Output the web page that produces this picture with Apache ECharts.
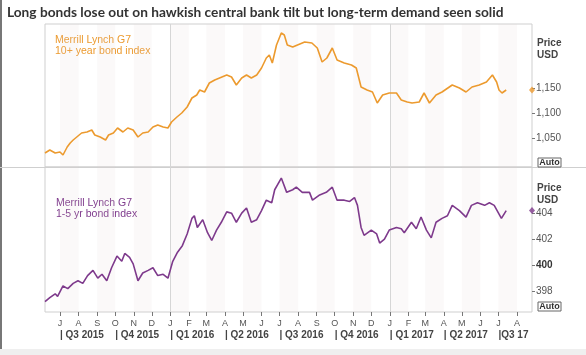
<!DOCTYPE html>
<html><head><meta charset="utf-8">
<script src="https://cdn.jsdelivr.net/npm/echarts@6/dist/echarts.min.js"></script>
<style>html,body{margin:0;padding:0;background:#fff}#c{width:586px;height:355px}</style>
</head><body><div id="c"></div>
<script>
const titleText = 'Long bonds lose out on hawkish central bank tilt but long-term demand seen solid';
const longLabel = ['Merrill Lynch G7', '10+ year bond index'];
const shortLabel = ['Merrill Lynch G7', '1-5 yr bond index'];

const longDates = ['2015-06-06','2015-06-14','2015-06-23','2015-07-01','2015-07-06','2015-07-13','2015-07-18','2015-07-23','2015-07-29','2015-08-06','2015-08-15','2015-08-23','2015-08-28','2015-09-06','2015-09-15','2015-09-20','2015-09-28','2015-10-05','2015-10-14','2015-10-22','2015-10-31','2015-11-08','2015-11-16','2015-11-25','2015-12-03','2015-12-11','2015-12-20','2015-12-28','2016-01-03','2016-01-12','2016-01-20','2016-01-29','2016-02-06','2016-02-14','2016-02-19','2016-02-27','2016-03-06','2016-03-15','2016-03-23','2016-04-04','2016-04-12','2016-04-20','2016-04-29','2016-05-07','2016-05-15','2016-05-24','2016-06-01','2016-06-09','2016-06-14','2016-06-19','2016-06-26','2016-07-04','2016-07-09','2016-07-14','2016-07-23','2016-07-31','2016-08-12','2016-08-24','2016-09-02','2016-09-10','2016-09-18','2016-09-27','2016-10-05','2016-10-17','2016-10-29','2016-11-06','2016-11-14','2016-11-24','2016-12-03','2016-12-11','2016-12-20','2016-12-31','2017-01-12','2017-01-20','2017-01-30','2017-02-07','2017-02-19','2017-02-27','2017-03-08','2017-03-19','2017-03-29','2017-04-15','2017-04-27','2017-05-08','2017-05-18','2017-05-30','2017-06-11','2017-06-21','2017-06-28','2017-07-02','2017-07-07','2017-07-14'];
const longValues = [1020,1026,1020,1022,1016,1032,1040,1046,1052,1060,1062,1066,1056,1052,1046,1056,1060,1070,1062,1070,1066,1052,1060,1062,1072,1076,1072,1070,1082,1092,1100,1112,1130,1136,1146,1142,1160,1166,1170,1176,1172,1156,1170,1176,1170,1176,1190,1210,1216,1200,1236,1260,1256,1236,1232,1236,1242,1240,1230,1202,1210,1230,1206,1200,1196,1190,1152,1146,1142,1120,1136,1140,1140,1126,1122,1120,1122,1140,1120,1136,1142,1156,1150,1142,1152,1156,1162,1176,1162,1146,1140,1146];

const shortDates = ['2015-06-06','2015-06-14','2015-06-23','2015-06-27','2015-07-06','2015-07-14','2015-07-23','2015-07-31','2015-08-08','2015-08-16','2015-08-25','2015-09-02','2015-09-09','2015-09-17','2015-09-25','2015-10-04','2015-10-12','2015-10-17','2015-10-25','2015-10-31','2015-11-08','2015-11-16','2015-11-25','2015-12-03','2015-12-11','2015-12-20','2015-12-28','2016-01-05','2016-01-13','2016-01-21','2016-01-29','2016-02-06','2016-02-10','2016-02-15','2016-02-24','2016-03-03','2016-03-10','2016-03-18','2016-03-26','2016-04-04','2016-04-12','2016-04-20','2016-04-29','2016-05-07','2016-05-15','2016-05-24','2016-06-01','2016-06-09','2016-06-18','2016-06-23','2016-07-04','2016-07-13','2016-07-23','2016-07-29','2016-08-08','2016-08-20','2016-08-25','2016-09-06','2016-09-17','2016-09-27','2016-10-05','2016-10-17','2016-10-26','2016-11-03','2016-11-08','2016-11-14','2016-11-19','2016-12-01','2016-12-10','2016-12-15','2016-12-23','2016-12-31','2017-01-12','2017-01-20','2017-01-25','2017-02-06','2017-02-14','2017-02-22','2017-03-03','2017-03-11','2017-03-19','2017-03-29','2017-04-07','2017-04-15','2017-04-27','2017-05-08','2017-05-17','2017-05-27','2017-06-08','2017-06-16','2017-06-24','2017-07-06','2017-07-14'];
const shortValues = [397.2,397.5,397.8,397.6,398.4,398.2,398.6,398.8,398.6,399.2,399.6,399.0,399.3,398.8,399.8,400.7,400.3,400.9,400.6,400.1,398.8,399.4,399.6,399.8,399.2,399.3,399.0,400.3,401.0,401.5,402.4,403.6,403.8,402.9,403.5,402.5,401.9,402.7,403.3,404.1,404.0,403.3,404.0,404.4,403.3,403.5,404.2,405.0,404.8,405.8,406.7,405.6,405.8,406.0,405.6,405.6,405.0,405.4,405.6,406.0,405.0,405.0,404.9,405.2,404.6,402.9,402.3,402.7,402.4,401.7,402.0,402.7,402.9,402.8,402.5,403.3,402.8,403.7,402.7,402.1,403.3,403.6,403.8,404.6,404.2,403.7,404.6,404.8,404.6,404.8,404.6,403.6,404.2];

const longTicks = [1050, 1100, 1150];
const shortTicks = [398, 400, 402, 404];
const monthLetters = ['J','F','M','A','M','J','J','A','S','O','N','D'];
const quarterStarts = ['2015-07-01','2015-10-01','2016-01-01','2016-04-01','2016-07-01','2016-10-01','2017-01-01','2017-04-01','2017-07-01'];
const quarterLabels = ['| Q3 2015','| Q4 2015','| Q1 2016','| Q2 2016','| Q3 2016','| Q4 2016','| Q1 2017','| Q2 2017','|Q3 17'];
const yearStarts = ['2016-01-01','2017-01-01'];
const xStart = '2015-06-06', xEnd = '2017-08-26';
const longRange = [992, 1278];
const shortRange = [396.4, 407.55];

const ts = s => Date.parse(s + 'T00:00:00Z');
const monthStarts = [];
for (let y = 2015, m = 6; y < 2017 || m <= 7; ) {
  monthStarts.push(Date.UTC(y, m, 1));
  m++; if (m > 11) { m = 0; y++; }
}
const bands = [];
for (let i = 0; i + 1 < monthStarts.length; i += 2) bands.push([{xAxis: monthStarts[i]}, {xAxis: monthStarts[i + 1]}]);
const qTs = quarterStarts.map(ts);

const ORANGE = '#ec9a2e', PURPLE = '#7e3a8c';
const FONT = 'Liberation Sans';
const TFONT = 'Lato';

const chart = echarts.init(document.getElementById('c'), null, {renderer: 'canvas'});
const fmtNum = v => v.toLocaleString('en-US');

function mkSeries(dates, vals, color, idx) {
  return {
    type: 'line', xAxisIndex: idx === 0 ? 0 : 1, yAxisIndex: idx,
    data: dates.map((d, i) => [ts(d), vals[i]]),
    showSymbol: false, symbol: 'none', silent: true,
    lineStyle: {color, width: 1.6}, itemStyle: {color}, z: 5,
    markArea: {silent: true, itemStyle: {color: 'rgba(225,205,205,0.13)'}, data: bands},
    markLine: {silent: true, symbol: 'none', label: {show: false},
      lineStyle: {color: '#d6d6d6', type: 'solid', width: 1},
      data: yearStarts.map(d => ({xAxis: ts(d)}))}
  };
}
function endMarker(dates, vals, color, idx) {
  return {type: 'scatter', xAxisIndex: idx === 0 ? 0 : 1, yAxisIndex: idx, silent: true,
    clip: false, symbol: 'diamond', symbolSize: [6, 7], itemStyle: {color}, z: 6,
    data: [[ts(xEnd), vals[vals.length - 1]]]};
}

const textEl = (x, y, text, opts) => ({type: 'text', x, y, silent: true,
  style: Object.assign({text, fill: '#444', font: '10px ' + FONT, verticalAlign: 'middle'}, opts || {})});
const autoBox = (x, y) => ({type: 'group', x, y, silent: true, children: [
  {type: 'rect', shape: {x: 0, y: 0, width: 23, height: 9}, style: {fill: '#fff', stroke: '#666', lineWidth: 1}},
  {type: 'text', x: 11.5, y: 5, style: {text: 'Auto', fill: '#333', font: 'bold 9px ' + FONT, align: 'center', verticalAlign: 'middle'}}
]});

const option = {
  animation: false, backgroundColor: '#fff',
  grid: [
    {left: 45, right: 54, top: 24, height: 143, show: true, borderColor: '#cfcfcf', borderWidth: 1, backgroundColor: 'transparent'},
    {left: 45, right: 54, top: 167, height: 145, show: true, borderColor: '#cfcfcf', borderWidth: 1, backgroundColor: 'transparent'}
  ],
  xAxis: [
    {type: 'value', gridIndex: 0, min: ts(xStart), max: ts(xEnd), axisLine: {show: false}, axisTick: {show: false}, axisLabel: {show: false}, splitLine: {show: false}},
    {type: 'value', gridIndex: 1, min: ts(xStart), max: ts(xEnd), axisLine: {show: false},
      axisTick: {show: true, customValues: monthStarts, length: 4, lineStyle: {color: '#777'}},
      axisLabel: {customValues: monthStarts, formatter: v => monthLetters[new Date(v).getUTCMonth()], fontSize: 9, color: '#555', fontFamily: FONT, margin: 7},
      splitLine: {show: false}},
    {type: 'value', gridIndex: 1, min: ts(xStart), max: ts(xEnd), position: 'bottom', offset: 12, axisLine: {show: false}, axisTick: {show: false},
      axisLabel: {customValues: qTs, formatter: v => { const i = qTs.indexOf(v); return i >= 0 ? quarterLabels[i] : ''; },
        align: 'left', fontSize: 10, fontWeight: 'bold', color: '#444', fontFamily: FONT, margin: 6},
      splitLine: {show: false}}
  ],
  yAxis: [
    {type: 'value', gridIndex: 0, position: 'right', min: longRange[0], max: longRange[1], axisLine: {show: false}, splitLine: {show: false},
      axisTick: {show: true, customValues: longTicks, length: 3, lineStyle: {color: '#777'}},
      axisLabel: {customValues: longTicks, formatter: fmtNum, fontSize: 10, color: '#555', fontFamily: FONT, margin: 4}},
    {type: 'value', gridIndex: 1, position: 'right', min: shortRange[0], max: shortRange[1], axisLine: {show: false}, splitLine: {show: false},
      axisTick: {show: true, customValues: shortTicks, length: 3, lineStyle: {color: '#777'}},
      axisLabel: {customValues: shortTicks, formatter: v => v === 400 ? '{b|400}' : String(v), fontSize: 10, color: '#555', fontFamily: FONT, margin: 4,
        rich: {b: {fontWeight: 'bold', fontSize: 10, color: '#333', fontFamily: FONT}}}}
  ],
  series: [
    mkSeries(longDates, longValues, ORANGE, 0),
    mkSeries(shortDates, shortValues, PURPLE, 1),
    endMarker(longDates, longValues, ORANGE, 0),
    endMarker(shortDates, shortValues, PURPLE, 1)
  ],
  graphic: [
    {type: 'rect', silent: true, shape: {x: 0, y: 0, width: 2, height: 355}, style: {fill: '#777'}},
    {type: 'rect', silent: true, shape: {x: 0, y: 349, width: 586, height: 6}, style: {fill: '#efefef'}},
    {type: 'line', silent: true, shape: {x1: 0, y1: 167.5, x2: 586, y2: 167.5}, style: {stroke: '#cfcfcf', lineWidth: 1}},
    textEl(7, 13, titleText, {font: 'bold 13.7px ' + TFONT, fill: '#333'}),
    textEl(55, 40, longLabel[0], {fill: ORANGE, font: '10.5px ' + FONT}),
    textEl(55, 51, longLabel[1], {fill: ORANGE, font: '10.5px ' + FONT}),
    textEl(56, 203, shortLabel[0], {fill: PURPLE, font: '10.5px ' + FONT}),
    textEl(56, 214, shortLabel[1], {fill: PURPLE, font: '10.5px ' + FONT}),
    textEl(537, 43, 'Price', {font: 'bold 10px ' + FONT, fill: '#444'}),
    textEl(537, 55, 'USD', {font: 'bold 10px ' + FONT, fill: '#444'}),
    textEl(537, 188, 'Price', {font: 'bold 10px ' + FONT, fill: '#444'}),
    textEl(537, 200, 'USD', {font: 'bold 10px ' + FONT, fill: '#444'}),
    autoBox(538, 158),
    autoBox(538, 302)
  ]
};
chart.setOption(option);
</script>
</body></html>
